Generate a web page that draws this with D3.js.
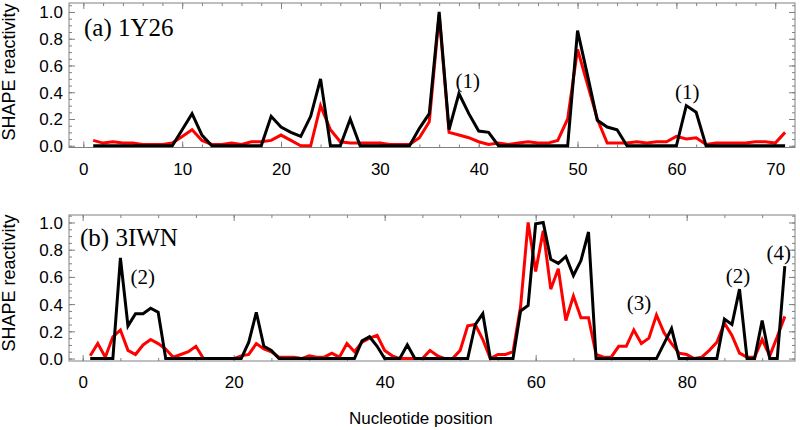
<!DOCTYPE html>
<html>
<head>
<meta charset="utf-8">
<script src="https://cdn.jsdelivr.net/npm/d3@7/dist/d3.min.js"></script>
<style>
  html, body { margin: 0; padding: 0; background: #fff; }
  svg { display: block; }
</style>
</head>
<body>
<svg id="chart" width="800" height="430"></svg>
<script>
// ---------------- data ----------------
const blackA = [0,0,0,0,0,0,0,0,0,
  0.12,0.24,0.08,0,
  0,0,0,0,0,
  0.22,0.14,0.10,0.07,0.22,0.50,0,0,0.20,0,
  0,0,0,0,0,
  0.13,0.24,1.0,0.12,0.39,0.24,0.11,0.10,0,
  0,0,0,0,0,0,0,
  0.86,0.53,0.19,0.14,0.12,0,
  0,0,0,0,0,
  0.30,0.25,0,
  0,0,0,0,0,0,0,0];
const redA = [0.04,0.02,0.03,0.02,0.02,0.01,0.01,0.01,0.02,0.07,
  0.12,0.04,0.01,0.01,0.02,0.01,0.03,0.03,0.04,0.08,
  0.04,0,0,0.30,0.12,0.03,0.02,0.02,0.02,0.02,
  0.01,0.01,0.01,0.06,0.18,0.98,0.10,0.08,0.06,0.03,
  0.01,0.02,0.01,0.02,0.03,0.02,0.02,0.04,0.20,0.72,
  0.46,0.20,0.02,0.02,0.02,0.03,0.02,0.03,0.03,0.07,
  0.05,0.06,0.01,0.02,0.02,0.02,0.02,0.03,0.03,0.02,
  0.10];
const blackB = [0,0,0,0,
  0.74,0.24,0.33,0.33,0.37,0.34,
  0,0,0,0,0,0,0,0,0,0,0,
  0.12,0.34,0.09,0.06,
  0,0,0,0,0,0,0,0,0,0,0,
  0.13,0.16,0.09,
  0,0,0,
  0.10,
  0,0,0,0,0,0,0,0,
  0.25,0.33,
  0,0,0,0,
  0.35,0.39,0.99,1.0,0.73,0.70,0.75,0.61,0.72,0.93,
  0,0,0,0,0,0,0,0,0,
  0.11,0.22,
  0,0,0,0,0,0,
  0.29,0.25,0.51,0,0,0.28,0,0,0.68];
const redB = [0.02,0.11,0.01,0.16,0.21,0.06,0.03,0.10,0.14,0.11,
  0.07,0.01,0.03,0.05,0.09,0,0,0,0,0,
  0.02,0.03,0.11,0.07,0.05,0.01,0.01,0.01,0,0.02,
  0.01,0.01,0.04,0.01,0.11,0.05,0.12,0.15,0.17,0.06,
  0.02,0,0,0,0,0.06,0.02,0,0,0.06,
  0.24,0.25,0.14,0,0.03,0.03,0.05,0.38,1.0,0.64,
  0.94,0.51,0.66,0.28,0.46,0.30,0.30,0.03,0.01,0.01,
  0.09,0.09,0.21,0.11,0.15,0.32,0.19,0.11,0.04,0.03,
  0,0.01,0.06,0.12,0.26,0.17,0.04,0.01,0.01,0.14,
  0.02,0.16,0.31];

const yTicks = [0, 0.2, 0.4, 0.6, 0.8, 1.0];
const xTicksA = [0, 10, 20, 30, 40, 50, 60, 70];
const xTicksB = [0, 20, 40, 60, 80];
// annotation anchors in data units (nucleotide, reactivity at text baseline)
const labelsA = [{t: "(1)", n: 38.9, v: 0.43}, {t: "(1)", n: 61.1, v: 0.35}];
const labelsB = [{t: "(2)", n: 7.95, v: 0.55}, {t: "(3)", n: 73.7, v: 0.36}, {t: "(2)", n: 86.8, v: 0.555}, {t: "(4)", n: 92.2, v: 0.724}];

// ---------------- drawing ----------------
const svg = d3.select("#chart");
const SANS = "'Liberation Sans', Arial, Helvetica, sans-serif";
const SERIF = "'Liberation Serif', 'Times New Roman', serif";
const boxColor = "#808080";

function panel(opt) {
  const x = d3.scaleLinear().domain(opt.xDomain).range([69, 795]);
  const y = d3.scaleLinear().domain(opt.yDomain).range([opt.bottom, opt.top]);
  const g = svg.append("g");

  const xMinor = d3.range(0, opt.xDomain[1], opt.xMinor);
  const yMinor = d3.range(0, opt.yDomain[1], 0.05);

  g.append("g").attr("transform", `translate(0,${opt.bottom})`)
    .call(d3.axisBottom(x).tickValues(xMinor).tickSize(-3).tickFormat(""));
  g.append("g").attr("transform", `translate(0,${opt.top})`)
    .call(d3.axisTop(x).tickValues(xMinor).tickSize(-3).tickFormat(""));
  g.append("g").attr("transform", `translate(69,0)`)
    .call(d3.axisLeft(y).tickValues(yMinor).tickSize(-3).tickFormat(""));
  g.append("g").attr("transform", `translate(795,0)`)
    .call(d3.axisRight(y).tickValues(yMinor).tickSize(-3).tickFormat(""));
  const bx = g.append("g").attr("transform", `translate(0,${opt.bottom})`)
    .call(d3.axisBottom(x).tickValues(opt.xTicks).tickSize(-6).tickFormat(d3.format("d")));
  g.append("g").attr("transform", `translate(0,${opt.top})`)
    .call(d3.axisTop(x).tickValues(opt.xTicks).tickSize(-6).tickFormat(""));
  const ly = g.append("g").attr("transform", `translate(69,0)`)
    .call(d3.axisLeft(y).tickValues(yTicks).tickSize(-6).tickFormat(d3.format(".1f")));
  g.append("g").attr("transform", `translate(795,0)`)
    .call(d3.axisRight(y).tickValues(yTicks).tickSize(-6).tickFormat(""));

  g.selectAll(".domain").remove();
  g.selectAll(".tick line").attr("stroke", boxColor);
  g.selectAll(".tick text").attr("font-family", SANS).attr("font-size", 17).attr("fill", "#000");
  bx.selectAll(".tick text").attr("dy", 0).attr("y", opt.xLabelBase - opt.bottom);
  ly.selectAll(".tick text").attr("dy", "0.35em").attr("x", -6);

  g.append("rect").attr("x", 69).attr("y", opt.top)
    .attr("width", 795 - 69).attr("height", opt.bottom - opt.top)
    .attr("fill", "none").attr("stroke", boxColor).attr("stroke-width", 1);

  g.append("text")
    .attr("transform", `translate(15,${opt.yTitleY}) rotate(-90)`)
    .attr("text-anchor", "middle")
    .attr("font-family", SANS).attr("font-size", 18)
    .text("SHAPE reactivity");

  const line = d3.line().x((d, i) => x(i + 1)).y(d => y(d));
  g.append("path").datum(opt.red).attr("d", line)
    .attr("fill", "none").attr("stroke", "#ff0000").attr("stroke-width", 3).attr("stroke-linejoin", "miter");
  g.append("path").datum(opt.black).attr("d", line)
    .attr("fill", "none").attr("stroke", "#000").attr("stroke-width", 3).attr("stroke-linejoin", "miter");

  g.append("text").attr("x", opt.titleX).attr("y", opt.titleY)
    .attr("font-family", SERIF).attr("font-size", 25).text(opt.title);

  g.selectAll(".ann").data(opt.labels).enter().append("text")
    .attr("x", d => x(d.n)).attr("y", d => y(d.v))
    .attr("text-anchor", "middle")
    .attr("font-family", SERIF).attr("font-size", 21)
    .text(d => d.t);
}

panel({
  xDomain: [-1.45, 72.0], yDomain: [-0.013, 1.067], top: 3, bottom: 147.5,
  xTicks: xTicksA, xMinor: 2, xLabelBase: 175,
  black: blackA, red: redA, title: "(a) 1Y26", titleX: 84, titleY: 36,
  labels: labelsA, yTitleY: 72
});
panel({
  xDomain: [-1.81, 94.35], yDomain: [-0.018, 1.055], top: 215, bottom: 361,
  xTicks: xTicksB, xMinor: 5, xLabelBase: 388,
  black: blackB, red: redB, title: "(b) 3IWN", titleX: 80, titleY: 246,
  labels: labelsB, yTitleY: 283
});

svg.append("text").attr("x", 349).attr("y", 424)
  .attr("font-family", SANS).attr("font-size", 17)
  .text("Nucleotide position");
</script>
</body>
</html>
